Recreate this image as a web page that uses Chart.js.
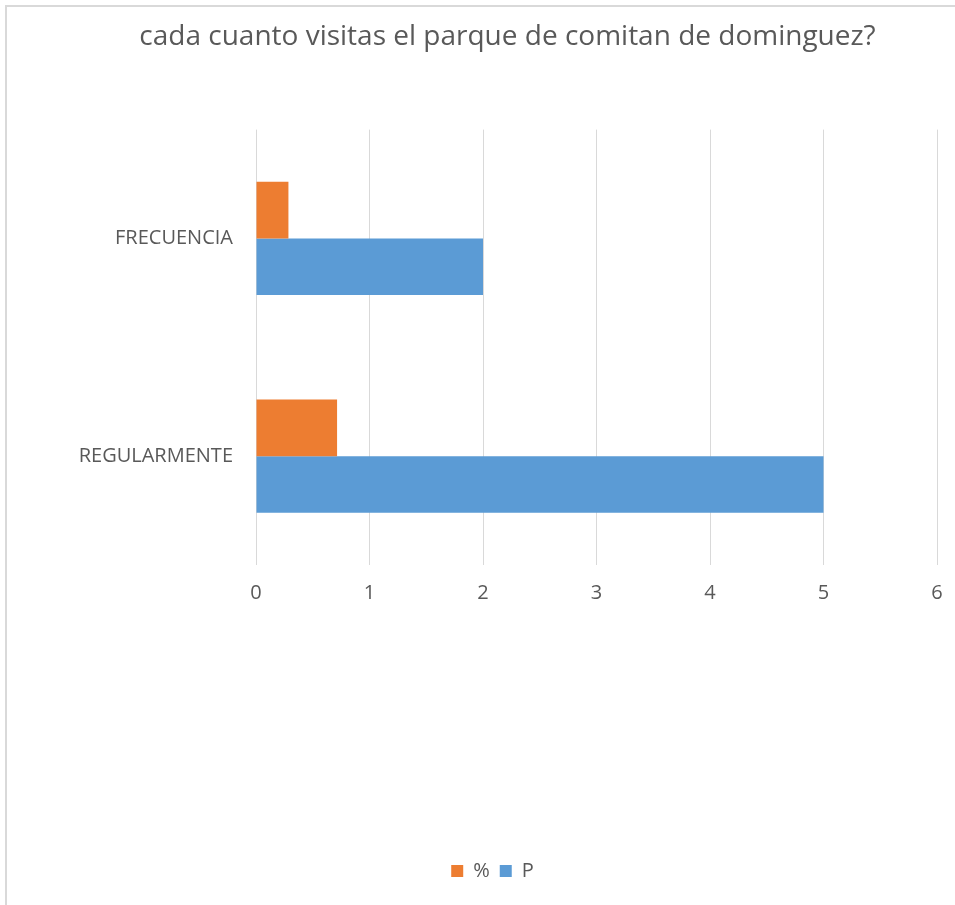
<!DOCTYPE html>
<html>
<head>
<meta charset="utf-8">
<script src="https://cdn.jsdelivr.net/npm/chart.js@4"></script>
<style>
    html, body { margin: 0; padding: 0; background: #ffffff; overflow: hidden; }
    #frame {
        position: absolute; left: 5px; top: 5px; width: 960px; height: 910px;
        border-left: 2px solid #d9d9d9; border-top: 2px solid #d9d9d9;
    }
    #wrap { position: absolute; left: 0; top: 0; width: 955px; height: 905px; }
</style>
</head>
<body>
<div id="frame"></div>
<div id="wrap"><canvas id="surveyChart"></canvas></div>
<script>
// Chart data
const chartTitle = 'cada cuanto visitas el parque de comitan de dominguez?';
const categories = ['FRECUENCIA', 'REGULARMENTE'];
const seriesNames = ['%', 'P'];
const percentValues = [0.2857, 0.7143];
const pValues = [2, 5];
const xTicks = [0, 1, 2, 3, 4, 5, 6];

const textColor = '#595959';
const fontFamily = '"Open Sans", "Noto Sans", sans-serif';

let surveyChart;

// Nudge title and legend sideways, Excel doesn't center them on the plot
const shiftBoxes = {
    id: 'shiftBoxes',
    afterLayout: function(chart) {
        const t = chart.titleBlock;
        if (t) { t.left += 39; t.right += 39; }
        const l = chart.legend;
        if (l) { l.left += 24; l.right += 24; }
    }
};

document.addEventListener('DOMContentLoaded', function() {
    const ctx = document.getElementById('surveyChart').getContext('2d');
    surveyChart = new Chart(ctx, {
        type: 'bar',
        data: {
            labels: categories,
            datasets: [
                {
                    label: seriesNames[0],
                    backgroundColor: '#ED7D31',
                    data: percentValues
                },
                {
                    label: seriesNames[1],
                    backgroundColor: '#5B9BD5',
                    data: pValues
                }
            ]
        },
        plugins: [shiftBoxes],
        options: {
            indexAxis: 'y',
            responsive: true,
            maintainAspectRatio: false,
            animation: false,
            datasets: {
                bar: {
                    barPercentage: 1,
                    categoryPercentage: 0.52
                }
            },
            layout: {
                padding: { left: 0, right: 18, top: 0, bottom: 14 }
            },
            plugins: {
                title: {
                    display: true,
                    text: chartTitle,
                    color: textColor,
                    font: { family: fontFamily, size: 28, weight: 'normal' },
                    padding: { top: 20, bottom: 76 }
                },
                legend: {
                    position: 'bottom',
                    labels: {
                        color: textColor,
                        font: { family: fontFamily, size: 20 },
                        boxWidth: 12,
                        boxHeight: 12,
                        padding: 10
                    }
                },
                tooltip: { enabled: false }
            },
            scales: {
                x: {
                    min: 0,
                    max: 6,
                    afterBuildTicks: function(scale) {
                        scale.ticks = xTicks.map(v => ({ value: v }));
                    },
                    afterFit: function(scale) {
                        scale.height = 286;
                        scale.paddingLeft = 0;
                        scale.paddingRight = 0;
                    },
                    grid: { color: '#d9d9d9', drawTicks: false },
                    border: { display: false },
                    ticks: {
                        color: textColor,
                        font: { family: fontFamily, size: 20 },
                        padding: 16
                    }
                },
                y: {
                    afterFit: function(scale) {
                        scale.width = 256;
                    },
                    grid: { display: false, drawTicks: false },
                    border: { display: false },
                    ticks: {
                        color: textColor,
                        font: { family: fontFamily, size: 20 },
                        padding: 23
                    }
                }
            }
        }
    });
});
</script>
</body>
</html>
